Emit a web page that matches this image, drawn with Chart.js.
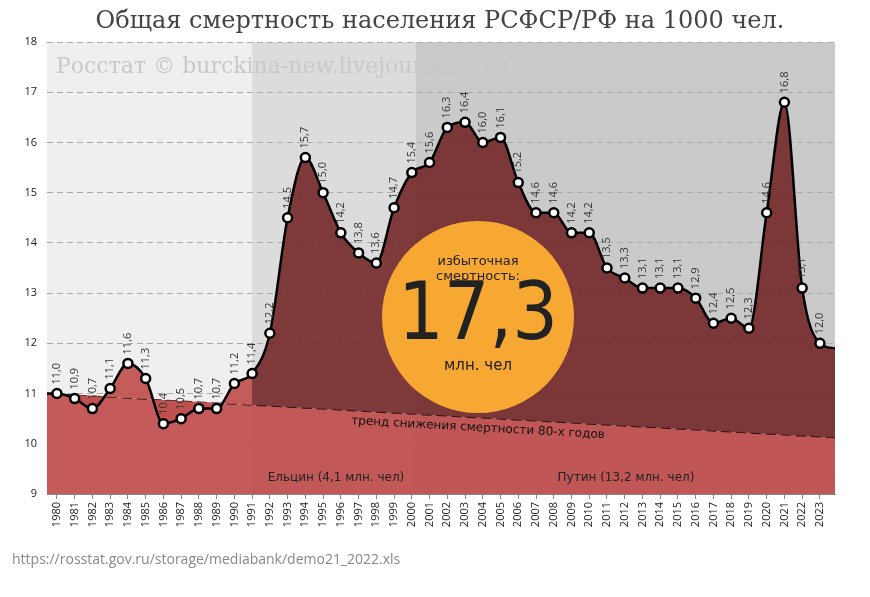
<!DOCTYPE html>
<html><head><meta charset="utf-8">
<script src="https://cdn.jsdelivr.net/npm/chart.js@4/dist/chart.umd.min.js"></script>
<style>html,body{margin:0;padding:0;background:#fff;}#w{width:870px;height:597px;}</style>
</head><body><div id="w"><canvas id="c"></canvas></div>
<script>
const years = [1980,1981,1982,1983,1984,1985,1986,1987,1988,1989,1990,1991,1992,1993,1994,1995,1996,1997,1998,1999,2000,2001,2002,2003,2004,2005,2006,2007,2008,2009,2010,2011,2012,2013,2014,2015,2016,2017,2018,2019,2020,2021,2022,2023];
const mortality = [11.0,10.9,10.7,11.1,11.6,11.3,10.4,10.5,10.7,10.7,11.2,11.4,12.2,14.5,15.7,15.0,14.2,13.8,13.6,14.7,15.4,15.6,16.3,16.4,16.0,16.1,15.2,14.6,14.6,14.2,14.2,13.5,13.3,13.1,13.1,13.1,12.9,12.4,12.5,12.3,14.6,16.8,13.1,12.0];
const edgeYears = [1979.44, 2023.85];
const edgeValues = [11.0, 11.9];
const trendYears = [1979.44, 2023.85];
const trendValues = [11.0, 10.12];
const yTicks = [9,10,11,12,13,14,15,16,17,18];
const bands = [[1979.44,1991.0,'#efefef'],[1991.0,2000.2,'#dcdcdc'],[2000.2,2023.85,'#cacaca']];

const pts = [{x:edgeYears[0],y:edgeValues[0]}].concat(years.map((y,i)=>({x:y,y:mortality[i]}))).concat([{x:edgeYears[1],y:edgeValues[1]}]);
const trend = trendYears.map((y,i)=>({x:y,y:trendValues[i]}));

function splitFill(ctx, light, dark){
  const ch = ctx.chart; const a = ch.chartArea; if(!a) return light;
  const xs = ch.scales.x; const p = (xs.getPixelForValue(1991)-a.left)/(a.right-a.left);
  const g = ch.ctx.createLinearGradient(a.left,0,a.right,0);
  g.addColorStop(0,light); g.addColorStop(p,light); g.addColorStop(p,dark); g.addColorStop(1,dark);
  return g;
}

const deco = {
  id:'deco',
  beforeDraw(ch){
    const c=ch.ctx,a=ch.chartArea,xs=ch.scales.x;
    c.save();
    bands.forEach(b=>{c.fillStyle=b[2];const x0=xs.getPixelForValue(b[0]),x1=xs.getPixelForValue(b[1]);c.fillRect(x0,a.top,x1-x0,a.bottom-a.top);});
    c.fillStyle='#444';c.font='24px "DejaVu Serif"';c.textAlign='center';c.textBaseline='middle';
    c.fillText('Общая смертность населения РСФСР/РФ на 1000 чел.',440,22);
    c.fillStyle='#c8c8c8';c.font='22px "DejaVu Serif"';c.textAlign='left';
    c.fillText('Росстат © burckina-new.livejournal.com',56,67);
    c.fillStyle='#888';c.font='14px "Open Sans"';
    c.fillText('https://rosstat.gov.ru/storage/mediabank/demo21_2022.xls',12,560);
    c.restore();
  },
  afterDatasetsDraw(ch){
    const c=ch.ctx,xs=ch.scales.x,ys=ch.scales.y;
    c.save();
    c.fillStyle='#333';c.font='11px "Open Sans"';c.textAlign='left';c.textBaseline='middle';
    years.forEach((yr,i)=>{const x=xs.getPixelForValue(yr),y=ys.getPixelForValue(mortality[i]);
      c.save();c.translate(x,y-9);c.rotate(-Math.PI/2);c.fillText(mortality[i].toFixed(1).replace('.',','),0,0);c.restore();});
    c.fillStyle='#111';c.font='12px "DejaVu Sans"';c.textAlign='center';
    const ta=-Math.atan2(ys.getPixelForValue(10.12)-ys.getPixelForValue(11.0), xs.getPixelForValue(2023.85)-xs.getPixelForValue(1979.44));
    c.save();c.translate(478,428);c.rotate(-ta);c.fillText('тренд снижения смертности 80-х годов',0,0);c.restore();
    c.fillStyle='#222';c.font='12px "DejaVu Sans"';
    c.fillText('Ельцин (4,1 млн. чел)',336,478);
    c.fillText('Путин (13,2 млн. чел)',626,478);
    c.beginPath();c.arc(478,317,96,0,Math.PI*2);c.fillStyle='#f7a833';c.fill();
    c.fillStyle='#222';c.font='13px "DejaVu Sans"';
    c.fillText('избыточная',478,262);c.fillText('смертность:',478,277);
    c.font='80px "DejaVu Sans Condensed"';c.fillText('17,3',478,318);
    c.font='15px "DejaVu Sans"';c.fillText('млн. чел',478,366);
    c.restore();
  }
};

new Chart(document.getElementById('c'),{
  type:'line',
  data:{datasets:[
    {data:pts,borderColor:'#000',borderWidth:2.5,cubicInterpolationMode:'monotone',
     pointRadius:ctx=>(ctx.dataIndex===0||ctx.dataIndex===pts.length-1)?0:4.5,pointBackgroundColor:'#fff',pointBorderColor:'#000',pointBorderWidth:2.5,
     fill:{target:1},backgroundColor:ctx=>splitFill(ctx,'rgba(192,80,77,0.92)','rgba(110,30,30,0.85)'),order:0},
    {data:trend,borderColor:'#111',borderWidth:1.2,borderDash:[10,5],pointRadius:0,fill:'origin',backgroundColor:'rgba(190,70,68,0.88)',order:1}
  ]},
  options:{responsive:true,maintainAspectRatio:false,animation:false,
    layout:{padding:{top:42,right:35,left:0,bottom:0}},
    plugins:{legend:{display:false},tooltip:{enabled:false}},
    scales:{
      x:{type:'linear',min:1979.44,max:2023.85,
        afterBuildTicks(ax){ax.ticks=years.map(v=>({value:v}));},
        afterFit(ax){ax.height=103;},
        ticks:{autoSkip:false,maxRotation:90,minRotation:90,color:'#222',font:{size:11,family:'Open Sans'},callback:v=>String(v)},
        grid:{display:true,drawOnChartArea:false,tickLength:5,color:'#888'},border:{color:'#888'}},
      y:{min:9,max:18,
        afterBuildTicks(ax){ax.ticks=yTicks.map(v=>({value:v}));},
        afterFit(ax){ax.width=47;},
        ticks:{color:'#222',font:{size:11,family:'Open Sans'},padding:10},
        grid:{color:'#aaa',drawTicks:false},border:{display:false,dash:[6,4]}}
    }}
  ,plugins:[deco]});
</script></body></html>
